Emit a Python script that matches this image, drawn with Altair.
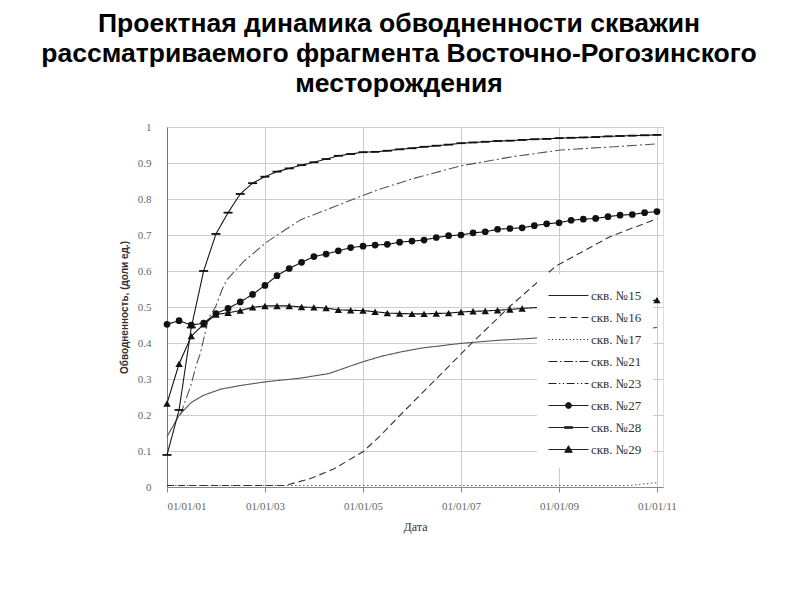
import altair as alt
import pandas as pd

names = ["скв. №15", "скв. №16", "скв. №17", "скв. №21", "скв. №23",
         "скв. №27", "скв. №28", "скв. №29"]

# ---- series (fractional years / quarterly) ----
w15_t = [2001.0, 2001.25, 2001.5, 2001.75, 2002.1, 2002.5, 2003.0, 2003.7, 2004.3,
         2005.0, 2005.4, 2005.8, 2006.2, 2007.0, 2007.7, 2008.45, 2011.0]
w15_v = [0.14, 0.20, 0.235, 0.255, 0.272, 0.282, 0.292, 0.302, 0.315,
         0.348, 0.364, 0.376, 0.386, 0.399, 0.407, 0.413, 0.443]

w16_t = [2001.0, 2003.4, 2003.9, 2004.4, 2005.0, 2005.35, 2005.76, 2007.26,
         2008.0, 2008.93, 2010.05, 2011.0]
w16_v = [0.004, 0.004, 0.022, 0.05, 0.098, 0.142, 0.2, 0.405,
         0.502, 0.613, 0.696, 0.745]

w17_t = [2001.0, 2010.4, 2011.0]
w17_v = [0.004, 0.004, 0.012]

w21_t = [2001.27, 2001.48, 2001.61, 2001.68, 2001.85, 2001.99, 2002.12, 2002.22,
         2002.56, 2003.04, 2003.72, 2004.4, 2005.0, 2005.35, 2005.76, 2006.03,
         2006.99, 2008.07, 2009.03, 2010.11, 2011.0]
w21_v = [0.2, 0.279, 0.344, 0.371, 0.47, 0.5, 0.547, 0.575,
         0.626, 0.681, 0.742, 0.778, 0.81, 0.828, 0.845, 0.857,
         0.892, 0.918, 0.936, 0.945, 0.953]

# quarterly points 2001-01-01 ... 2011-01-01
w27_v = [0.452, 0.462, 0.45, 0.455, 0.482, 0.496, 0.514, 0.535, 0.56, 0.587,
         0.607, 0.624, 0.64, 0.647, 0.656, 0.665, 0.669, 0.672, 0.674, 0.68,
         0.683, 0.686, 0.693, 0.698, 0.7, 0.706, 0.709, 0.716, 0.718, 0.72,
         0.726, 0.731, 0.734, 0.741, 0.744, 0.746, 0.751, 0.755, 0.757, 0.762,
         0.765]
w28_v = [0.089, 0.214, 0.443, 0.6, 0.703, 0.762, 0.814, 0.844, 0.862, 0.876,
         0.885, 0.894, 0.902, 0.911, 0.92, 0.925, 0.93, 0.931, 0.934, 0.938,
         0.941, 0.945, 0.948, 0.951, 0.955, 0.957, 0.959, 0.961, 0.962, 0.964,
         0.966, 0.967, 0.969, 0.970, 0.971, 0.972, 0.974, 0.975, 0.976, 0.977,
         0.978]
# visible quarters (index 0..29) and the last point at 2011 (index 40)
w29_idx = list(range(30)) + [40]
w29_v = [0.232, 0.342, 0.419, 0.452, 0.479, 0.484, 0.49, 0.499, 0.503, 0.503,
         0.503, 0.5, 0.499, 0.497, 0.492, 0.491, 0.49, 0.487, 0.483, 0.482,
         0.481, 0.481, 0.482, 0.483, 0.486, 0.488, 0.489, 0.491, 0.493, 0.496,
         0.519]

title_lines = ["Проектная динамика обводненности скважин",
               "рассматриваемого фрагмента Восточно-Рогозинского",
               "месторождения"]
x_title = "Дата"
y_title = "Обводненность, (доли ед.)"
tick_years = [2001, 2003, 2005, 2007, 2009, 2011]
y_ticks = [0, 0.1, 0.2, 0.3, 0.4, 0.5, 0.6, 0.7, 0.8, 0.9, 1]

# ---- styles (per series) ----
line_style = {
    "скв. №15": ("#555555", [1, 0]),
    "скв. №16": ("#333333", [7, 4]),
    "скв. №17": ("#666666", [1.5, 2.5]),
    "скв. №21": ("#555555", [10, 3, 2, 3]),
    "скв. №27": ("#111111", [1, 0]),
    "скв. №28": ("#1a1a1a", [1, 0]),
    "скв. №29": ("#111111", [1, 0]),
}
draw_order = ["скв. №17", "скв. №16", "скв. №15", "скв. №21",
              "скв. №27", "скв. №28", "скв. №29"]
legend_paths = [
    "M-1,0H3",
    "M-1,0H-0.3M0.1,0H0.8M1.2,0H1.9M2.3,0H3",
    "M-1,0H-0.88M-0.65,0H-0.53M-0.3,0H-0.18M0.05,0H0.17M0.4,0H0.52M0.75,0H0.87"
    "M1.1,0H1.22M1.45,0H1.57M1.8,0H1.92M2.15,0H2.27M2.5,0H2.62M2.85,0H2.97",
    "M-1,0H-0.1M0.15,0H0.3M0.55,0H1.45M1.7,0H1.85M2.1,0H3",
    "M-1,0H-0.2M0.05,0H0.18M0.43,0H0.56M0.81,0H1.61M1.86,0H1.99M2.24,0H2.37M2.62,0H3",
    "M-1,0H3M1.3,0A0.3,0.3,0,1,1,0.7,0A0.3,0.3,0,1,1,1.3,0Z",
    "M-1,0H3M0.6,-0.08H1.4V0.08H0.6Z",
    "M-1,0H3M1,-0.38L1.38,0.28H0.62Z",
]

base = pd.Timestamp("2001-01-01")


def frac_dates(ts):
    return [base + pd.Timedelta(days=(t - 2001.0) * 365.25) for t in ts]


quarters = list(pd.date_range("2001-01-01", periods=41, freq="QS"))

rows = []


def add(name, dates, vals):
    for d, v in zip(dates, vals):
        rows.append({"series": name, "date": d, "value": v})


add(names[2], frac_dates(w17_t), w17_v)
add(names[1], frac_dates(w16_t), w16_v)
add(names[0], frac_dates(w15_t), w15_v)
add(names[3], frac_dates(w21_t), w21_v)
add(names[5], quarters, w27_v)
add(names[6], quarters, w28_v)
add(names[7], [quarters[i] for i in w29_idx], w29_v)

df = pd.DataFrame(rows)

x_scale = alt.Scale(domain=[alt.DateTime(year=2001, month=1, date=1),
                            alt.DateTime(year=2011, month=2, date=15)])
y_scale = alt.Scale(domain=[0, 1])

x_axis = alt.Axis(values=[alt.DateTime(year=y, month=1, date=1) for y in tick_years],
                  format="%m/%d/%y", labelFont="Liberation Serif", labelFontSize=11,
                  labelColor="#666666", grid=True, gridColor="#cccccc",
                  domainColor="#888888", tickColor="#888888", tickSize=5,
                  labelPadding=8, title=x_title, titleFont="Liberation Serif",
                  titleFontSize=12, titleFontWeight="normal", titleColor="#333333",
                  titlePadding=10)
y_axis = alt.Axis(values=y_ticks, format="~g", labelFont="Liberation Serif",
                  labelFontSize=11, labelColor="#666666", grid=True,
                  gridColor="#cccccc", domainColor="#777777", ticks=False,
                  labelPadding=16, title=y_title, titleFont="Liberation Sans",
                  titleFontSize=10, titleFontWeight="bold", titleColor="#333333",
                  titlePadding=8)

X = alt.X("date:T", scale=x_scale, axis=x_axis)
Y = alt.Y("value:Q", scale=y_scale, axis=y_axis)


def line_layer(name):
    color, dash = line_style[name]
    return alt.Chart(df).transform_filter(alt.datum.series == name).mark_line(
        strokeWidth=1.1, color=color, strokeDash=dash).encode(x=X, y=Y)


def markers(name, shape, size):
    return alt.Chart(df).transform_filter(alt.datum.series == name).mark_point(
        shape=shape, filled=True, size=size, color="#111111", opacity=1
    ).encode(x=X, y=Y)


layers = [line_layer(n) for n in draw_order]
layers += [markers(names[5], "circle", 45),
           markers(names[6], "M-1,-0.2H1V0.2H-1Z", 81),
           markers(names[7], "triangle-up", 55)]

# invisible layer that only carries the legend (line + marker symbols)
leg = alt.Chart(df).mark_point(
    filled=False, fill="#111111", stroke="#222222", strokeWidth=1, opacity=0).encode(
    x=X, y=Y,
    shape=alt.Shape("series:N", scale=alt.Scale(domain=names, range=legend_paths),
                    legend=alt.Legend(orient="none", legendX=370, legendY=147, title=None,
                                      fillColor="white", padding=11, symbolSize=400,
                                      symbolStrokeWidth=1, symbolOpacity=1,
                                      labelFont="Liberation Serif", labelFontSize=13,
                                      labelColor="#333333", labelOffset=22, rowPadding=4,
                                      labelLimit=200, zindex=1)),
)
layers.append(leg)

chart = alt.layer(*layers).properties(
    width=496, height=360,
    autosize=alt.AutoSizeParams(type="none"),
    padding={"left": 159, "top": 119, "right": 129, "bottom": 105},
    title=alt.TitleParams(text=title_lines, font="Liberation Sans", fontSize=26.5,
                          fontWeight="bold", color="#000000", lineHeight=30,
                          anchor="middle", frame="group", dx=-16, offset=24),
).configure_view(stroke=None).configure(background="white")

chart.save("out.html", embed_options={"renderer": "svg", "actions": False})
